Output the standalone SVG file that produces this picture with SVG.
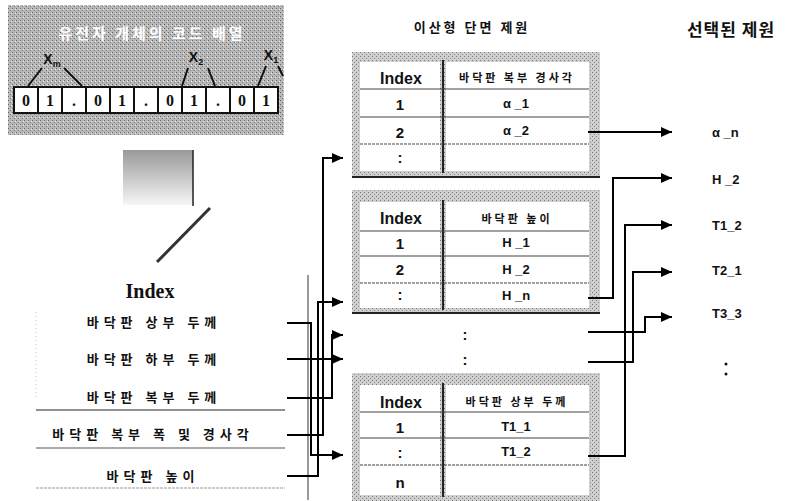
<svg xmlns="http://www.w3.org/2000/svg" width="810" height="501" viewBox="0 0 810 501">
<defs>
<pattern id="dots" width="4" height="4" patternUnits="userSpaceOnUse">
<rect width="4" height="4" fill="#cfcfcf"/>
<rect x="0" y="0" width="1" height="1" fill="#777"/>
<rect x="2" y="2" width="1" height="1" fill="#888"/>
</pattern>
<pattern id="darkdots" width="4" height="4" patternUnits="userSpaceOnUse">
<rect width="4" height="4" fill="#b8b8b8"/>
<rect x="0" y="0" width="1" height="1" fill="#666"/>
<rect x="2" y="2" width="1" height="1" fill="#777"/>
<rect x="3" y="1" width="1" height="1" fill="#eee"/>
</pattern>
<linearGradient id="fade" x1="0" y1="0" x2="0" y2="1">
<stop offset="0" stop-color="#999"/>
<stop offset="1" stop-color="#f6f6f6"/>
</linearGradient>
<marker id="arr" markerUnits="userSpaceOnUse" markerWidth="11" markerHeight="10" refX="11" refY="5" orient="auto">
<path d="M0,0 L11,5 L0,10 z" fill="#000"/>
</marker>
</defs>
<style>
.kr{font-family:"Noto Sans CJK KR","Noto Sans",sans-serif;font-weight:bold;fill:#111}
.lst{font-size:13px;letter-spacing:5px;text-anchor:middle}
.hd{font-size:11px;letter-spacing:3px;text-anchor:middle}
.en{font-family:"Liberation Sans",Arial,sans-serif;font-weight:bold;fill:#111;text-anchor:middle}
.idx{font-size:16px}
.num{font-size:15px}
.val{font-size:13px}
.cell{fill:#fff;stroke:#111;stroke-width:2}
.ctext{font-family:"Liberation Serif",serif;font-weight:bold;font-size:16px;text-anchor:middle;fill:#111}
.xl{font-family:"Liberation Sans",sans-serif;font-weight:bold;font-size:14px;fill:#111;text-anchor:middle}
.gbox{fill:url(#dots)}
.wcell{fill:#fff}
.rowl{stroke:#444;stroke-width:1.2}
.coll{stroke:#222;stroke-width:2}
.conn path{fill:none;stroke:#000;stroke-width:2}
.rlab{font-family:"Liberation Sans",Arial,sans-serif;font-weight:bold;font-size:13px;fill:#111}
</style>

<g id="code-array">
<rect x="8" y="5" width="276" height="130" fill="url(#darkdots)"/>
<text x="152" y="39" font-family="'Noto Sans CJK KR',sans-serif" font-weight="bold" font-size="15" letter-spacing="3" fill="#fff" text-anchor="middle">유전자 개체의 코드 배열</text>
<g stroke="#111" stroke-width="2" fill="none">
<path d="M28,86 L42,68 M64,68 L82,86"/>
<path d="M182,86 L188,68 M208,68 L215,86"/>
<path d="M258,86 L266,66 M278,66 L283,76"/>
</g>
<text class="xl" x="52" y="64">X<tspan font-size="9" dy="3">m</tspan></text>
<text class="xl" x="196" y="62">X<tspan font-size="9" dy="3">2</tspan></text>
<text class="xl" x="271" y="60">X<tspan font-size="9" dy="3">1</tspan></text>
<rect class="cell" x="14" y="87" width="24" height="26"/>
<rect class="cell" x="38" y="87" width="24" height="26"/>
<rect class="cell" x="62" y="87" width="24" height="26"/>
<rect class="cell" x="86" y="87" width="24" height="26"/>
<rect class="cell" x="110" y="87" width="24" height="26"/>
<rect class="cell" x="134" y="87" width="24" height="26"/>
<rect class="cell" x="158" y="87" width="24" height="26"/>
<rect class="cell" x="182" y="87" width="24" height="26"/>
<rect class="cell" x="206" y="87" width="24" height="26"/>
<rect class="cell" x="230" y="87" width="24" height="26"/>
<rect class="cell" x="254" y="87" width="24" height="26"/>
<text class="ctext" x="26" y="106">0</text>
<text class="ctext" x="50" y="106">1</text>
<text class="ctext" x="74" y="106">.</text>
<text class="ctext" x="98" y="106">0</text>
<text class="ctext" x="122" y="106">1</text>
<text class="ctext" x="146" y="106">.</text>
<text class="ctext" x="170" y="106">0</text>
<text class="ctext" x="194" y="106">1</text>
<text class="ctext" x="218" y="106">.</text>
<text class="ctext" x="242" y="106">0</text>
<text class="ctext" x="266" y="106">1</text>
</g>

<g id="fade-block">
<rect x="123" y="150" width="70" height="55" fill="url(#fade)"/>
<line x1="193" y1="150" x2="193" y2="206" stroke="#222" stroke-width="1.5"/>
<line x1="210" y1="208" x2="157" y2="262" stroke="#333" stroke-width="3"/>
</g>

<g id="index-list">
<text x="150" y="298" font-family="'Liberation Serif',serif" font-weight="bold" font-size="20" fill="#111" text-anchor="middle">Index</text>
<line x1="36" y1="312" x2="36" y2="400" stroke="#bbb" stroke-width="1" stroke-dasharray="1,3"/>
<text class="kr lst" x="154" y="327">바닥판 상부 두께</text>
<text class="kr lst" x="154" y="364">바닥판 하부 두께</text>
<text class="kr lst" x="154" y="402">바닥판 복부 두께</text>
<line x1="36" y1="410" x2="285" y2="410" stroke="#222" stroke-width="1"/>
<text class="kr lst" x="153" y="439">바닥판 복부 폭 및 경사각</text>
<line x1="36" y1="448" x2="285" y2="448" stroke="#555" stroke-width="1"/>
<text class="kr lst" x="153" y="481">바닥판 높이</text>
<line x1="36" y1="488" x2="285" y2="488" stroke="#999" stroke-width="1" stroke-dasharray="3,1"/>
</g>

<text class="kr" x="472" y="32" font-size="13" letter-spacing="3" text-anchor="middle">이산형 단면 제원</text>
<text class="kr" x="731" y="36" font-size="17" letter-spacing="1" text-anchor="middle">선택된 제원</text>

<g id="table1">
<rect class="gbox" x="352" y="52" width="248" height="126"/>
<line x1="352" y1="177" x2="600" y2="177" stroke="#222" stroke-width="2"/>
<rect class="wcell" x="360" y="62" width="80" height="109"/>
<rect class="wcell" x="446" y="62" width="143" height="109"/>
<line class="coll" x1="443" y1="60" x2="443" y2="173"/>
<line class="rowl" x1="360" y1="89" x2="589" y2="89"/>
<line class="rowl" x1="360" y1="117" x2="589" y2="117"/>
<line class="rowl" x1="360" y1="144" x2="589" y2="144" stroke-dasharray="3,1"/>
<text class="en idx" x="401" y="84">Index</text>
<text class="kr hd" x="517" y="82">바닥판 복부 경사각</text>
<text class="en num" x="400" y="110">1</text>
<text class="en val" x="516" y="108">α _1</text>
<text class="en num" x="400" y="138">2</text>
<text class="en val" x="516" y="135">α _2</text>
<text class="en num" x="400" y="163">:</text>
</g>

<g id="table2">
<rect class="gbox" x="352" y="190" width="248" height="123"/>
<line x1="352" y1="313" x2="600" y2="313" stroke="#222" stroke-width="2"/>
<rect class="wcell" x="360" y="202" width="80" height="106"/>
<rect class="wcell" x="446" y="202" width="143" height="106"/>
<line class="coll" x1="443" y1="200" x2="443" y2="310"/>
<line class="rowl" x1="360" y1="231" x2="589" y2="231"/>
<line class="rowl" x1="360" y1="256" x2="589" y2="256"/>
<line class="rowl" x1="360" y1="283" x2="589" y2="283" stroke-dasharray="3,1"/>
<text class="en idx" x="401" y="224">Index</text>
<text class="kr hd" x="517" y="223">바닥판 높이</text>
<text class="en num" x="400" y="249">1</text>
<text class="en val" x="516" y="247">H _1</text>
<text class="en num" x="400" y="275">2</text>
<text class="en val" x="516" y="274">H _2</text>
<text class="en num" x="400" y="300">:</text>
<text class="en val" x="516" y="300">H _n</text>
</g>

<g id="gap-dots">
<text class="en num" x="465" y="340">:</text>
<text class="en num" x="465" y="365">:</text>
</g>

<g id="table3">
<rect class="gbox" x="352" y="373" width="248" height="128"/>
<rect class="wcell" x="360" y="385" width="80" height="110"/>
<rect class="wcell" x="446" y="385" width="143" height="110"/>
<line class="coll" x1="443" y1="383" x2="443" y2="497"/>
<line class="rowl" x1="360" y1="412" x2="589" y2="412"/>
<line class="rowl" x1="360" y1="438" x2="589" y2="438"/>
<line class="rowl" x1="360" y1="465" x2="589" y2="465" stroke-dasharray="3,1"/>
<text class="en idx" x="401" y="408">Index</text>
<text class="kr hd" x="517" y="406">바닥판 상부 두께</text>
<text class="en num" x="400" y="433">1</text>
<text class="en val" x="516" y="431">T1_1</text>
<text class="en num" x="400" y="458">:</text>
<text class="en val" x="516" y="456">T1_2</text>
<text class="en num" x="400" y="488">n</text>
</g>

<g id="selected">
<text class="rlab" x="712" y="137">α _n</text>
<text class="rlab" x="712" y="184">H _2</text>
<text class="rlab" x="712" y="230">T1_2</text>
<text class="rlab" x="712" y="275">T2_1</text>
<text class="rlab" x="712" y="318">T3_3</text>
<circle cx="726" cy="364" r="1.5" fill="#111"/>
<circle cx="726" cy="374" r="1.5" fill="#111"/>
</g>

<g id="connectors" class="conn">
<line x1="308" y1="275" x2="308" y2="500" stroke="#333" stroke-width="1"/>
<path d="M287,323 H311 V455 H343" marker-end="url(#arr)"/>
<path d="M287,359 H343" marker-end="url(#arr)"/>
<path d="M287,398 H332 V335 H343" marker-end="url(#arr)"/>
<path d="M287,435 H323 V158 H343" marker-end="url(#arr)"/>
<path d="M287,476 H318 V302 H343" marker-end="url(#arr)"/>
<path d="M588,132 H672" marker-end="url(#arr)"/>
<path d="M588,298 H613 V178 H672" marker-end="url(#arr)"/>
<path d="M588,456 H625 V225 H672" marker-end="url(#arr)"/>
<path d="M588,362 H633 V272 H672" marker-end="url(#arr)"/>
<path d="M588,332 H645 V317 H672" marker-end="url(#arr)"/>
</g>
</svg>
